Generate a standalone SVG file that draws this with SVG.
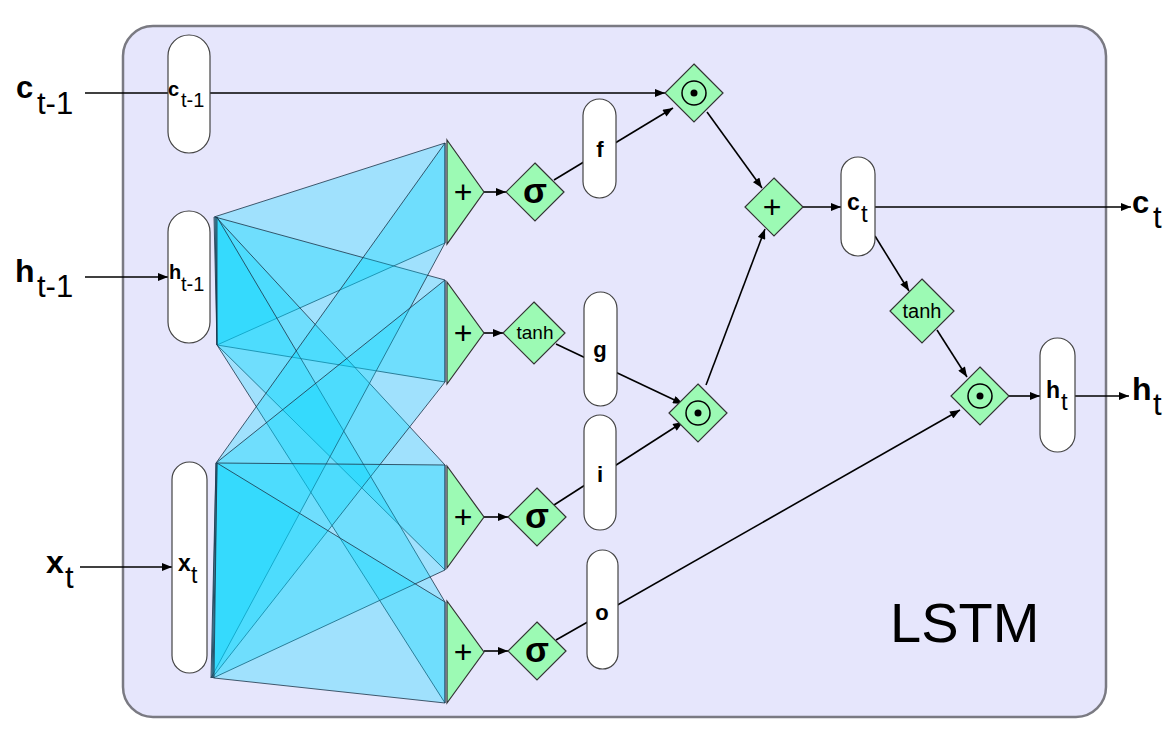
<svg xmlns="http://www.w3.org/2000/svg" width="1168" height="736" viewBox="0 0 1168 736">
<defs>
<marker id="ah" viewBox="0 0 10 8" refX="10" refY="4" markerWidth="11" markerHeight="8" markerUnits="userSpaceOnUse" orient="auto">
<path d="M0,0 L10,4 L0,8 z" fill="#000"/>
</marker>
<style>
.box{fill:#e6e6fc;stroke:#7a7a82;stroke-width:2.5}
.pill{fill:#fff;stroke:#444;stroke-width:1.2}
.g{fill:#9cfab4;stroke:#333;stroke-width:1.2}
.w{fill:#00d8ff;fill-opacity:0.3;stroke:#1c3448;stroke-opacity:0.8;stroke-width:1}
.c{fill:none;stroke:#000;stroke-width:1.6}
.ca{fill:none;stroke:#000;stroke-width:1.6;marker-end:url(#ah)}
text{font-family:"Liberation Sans",Arial,sans-serif;fill:#000}
.b{font-weight:bold}
.m{text-anchor:middle}
.s{font-size:35px;font-weight:bold}
</style>
</defs>
<rect class="box" x="123" y="26" width="983" height="691" rx="30"/>

<g id="connectors">
<line class="ca" x1="85" y1="93" x2="665" y2="93"/>
<line class="ca" x1="85" y1="277" x2="168" y2="277"/>
<line class="ca" x1="80" y1="567" x2="172" y2="567"/>
<line class="ca" x1="484" y1="192" x2="506" y2="192"/>
<line class="ca" x1="484" y1="333" x2="503" y2="333"/>
<line class="ca" x1="484" y1="517" x2="508" y2="517"/>
<line class="ca" x1="484" y1="651" x2="508" y2="651"/>
<line class="ca" x1="554" y1="180" x2="673" y2="108"/>
<line class="ca" x1="556" y1="344" x2="683" y2="404"/>
<line class="ca" x1="554" y1="505" x2="683" y2="422"/>
<line class="ca" x1="556" y1="640" x2="960" y2="410"/>
<line class="ca" x1="707" y1="112" x2="762" y2="188"/>
<line class="ca" x1="706" y1="385" x2="765" y2="229"/>
<line class="ca" x1="803" y1="207" x2="841" y2="207"/>
<line class="ca" x1="875" y1="207" x2="1131" y2="207"/>
<line class="ca" x1="875" y1="236" x2="909" y2="291"/>
<line class="ca" x1="937" y1="330" x2="967" y2="377"/>
<line class="ca" x1="1009" y1="396" x2="1040" y2="396"/>
<line class="ca" x1="1075" y1="396" x2="1129" y2="396"/>
</g>

<g id="weights">
<polygon class="w" points="214,217 445,143 445,243 217,345"/>
<polygon class="w" points="215,217 445,280 445,382 217,345"/>
<polygon class="w" points="216,217 445,465 445,570 217,345"/>
<polygon class="w" points="217,217 445,602 445,703 217,345"/>
<polygon class="w" points="216,463 445,143 445,243 211,678"/>
<polygon class="w" points="216,463 445,280 445,382 212,678"/>
<polygon class="w" points="217,463 445,465 445,570 213,678"/>
<polygon class="w" points="217,463 445,602 445,703 214,678"/>
</g>

<g id="node-c_prev">
<rect class="pill" x="168" y="35" width="42" height="118" rx="21"/>
<text><tspan class="b" x="168" y="96" font-size="20">c</tspan><tspan x="181" y="107" font-size="20">t-1</tspan></text>
</g>
<g id="node-h_prev">
<rect class="pill" x="168" y="211" width="42" height="132" rx="21"/>
<text><tspan class="b" x="169" y="279" font-size="20">h</tspan><tspan x="181" y="291" font-size="20">t-1</tspan></text>
</g>
<g id="node-x">
<rect class="pill" x="172" y="462" width="35" height="211" rx="17.5"/>
<text><tspan class="b" x="178" y="571" font-size="23">x</tspan><tspan x="191" y="583" font-size="23">t</tspan></text>
</g>

<g id="node-sum-f"><polygon class="g" points="447,140 484,192 447,244"/><text class="m" x="463" y="203" font-size="32">+</text></g>
<g id="node-sum-g"><polygon class="g" points="447,282 484,333 447,384"/><text class="m" x="463" y="344" font-size="32">+</text></g>
<g id="node-sum-i"><polygon class="g" points="447,466 484,517 447,568"/><text class="m" x="463" y="528" font-size="32">+</text></g>
<g id="node-sum-o"><polygon class="g" points="447,601 484,652 447,703"/><text class="m" x="463" y="663" font-size="32">+</text></g>

<g id="node-sigma-f"><polygon class="g" points="535,163 564,192 535,221 506,192"/><text class="m s" x="535" y="203">σ</text></g>
<g id="node-tanh-g"><polygon class="g" points="534,302 565,333 534,364 503,333"/><text class="m" x="535" y="339" font-size="19">tanh</text></g>
<g id="node-sigma-i"><polygon class="g" points="537,488 566,517 537,546 508,517"/><text class="m s" x="537" y="528">σ</text></g>
<g id="node-sigma-o"><polygon class="g" points="537,622 566,651 537,680 508,651"/><text class="m s" x="537" y="662">σ</text></g>

<g id="node-f"><rect class="pill" x="583" y="99" width="33" height="99" rx="16.5"/><text class="b m" x="600" y="157" font-size="22">f</text></g>
<g id="node-g"><rect class="pill" x="584" y="292" width="33" height="114" rx="16.5"/><text class="b m" x="600" y="357" font-size="22">g</text></g>
<g id="node-i"><rect class="pill" x="584" y="415" width="32" height="115" rx="16"/><text class="b m" x="600" y="482" font-size="22">i</text></g>
<g id="node-o"><rect class="pill" x="587" y="550" width="31" height="119" rx="15.5"/><text class="b m" x="602" y="620" font-size="22">o</text></g>

<g id="node-mul-fc"><polygon class="g" points="694,64 723,93 694,122 665,93"/><circle cx="694" cy="93" r="12" fill="none" stroke="#000" stroke-width="1.5"/><circle cx="694" cy="93" r="3.5" fill="#000"/></g>
<g id="node-mul-gi"><polygon class="g" points="698,384 727,413 698,442 669,413"/><circle cx="698" cy="413" r="12" fill="none" stroke="#000" stroke-width="1.5"/><circle cx="698" cy="413" r="3.5" fill="#000"/></g>
<g id="node-add-c"><polygon class="g" points="774,178 803,207 774,236 745,207"/><text class="m" x="772" y="218" font-size="32">+</text></g>

<g id="node-c"><rect class="pill" x="841" y="157" width="34" height="99" rx="17"/>
<text><tspan class="b" x="847" y="210" font-size="23">c</tspan><tspan x="861" y="222" font-size="24">t</tspan></text></g>
<g id="node-tanh-c"><polygon class="g" points="922,279 954,311 922,343 890,311"/><text class="m" x="922" y="318" font-size="20">tanh</text></g>
<g id="node-mul-h"><polygon class="g" points="980,367 1009,396 980,425 951,396"/><circle cx="980" cy="396" r="12" fill="none" stroke="#000" stroke-width="1.5"/><circle cx="980" cy="396" r="3.5" fill="#000"/></g>
<g id="node-h"><rect class="pill" x="1040" y="338" width="35" height="114" rx="17.5"/>
<text><tspan class="b" x="1046" y="398" font-size="23">h</tspan><tspan x="1061" y="410" font-size="24">t</tspan></text></g>

<g id="labels">
<text><tspan class="b" x="16" y="98" font-size="31">c</tspan><tspan x="37" y="114" font-size="31">t-1</tspan></text>
<text><tspan class="b" x="15" y="282" font-size="32">h</tspan><tspan x="37" y="297" font-size="31">t-1</tspan></text>
<text><tspan class="b" x="46" y="573" font-size="32">x</tspan><tspan x="65" y="588" font-size="31">t</tspan></text>
<text><tspan class="b" x="1132" y="213" font-size="31">c</tspan><tspan x="1153" y="228" font-size="31">t</tspan></text>
<text><tspan class="b" x="1132" y="400" font-size="32">h</tspan><tspan x="1153" y="415" font-size="31">t</tspan></text>
<text x="890" y="642" font-size="56">LSTM</text>
</g>
</svg>
